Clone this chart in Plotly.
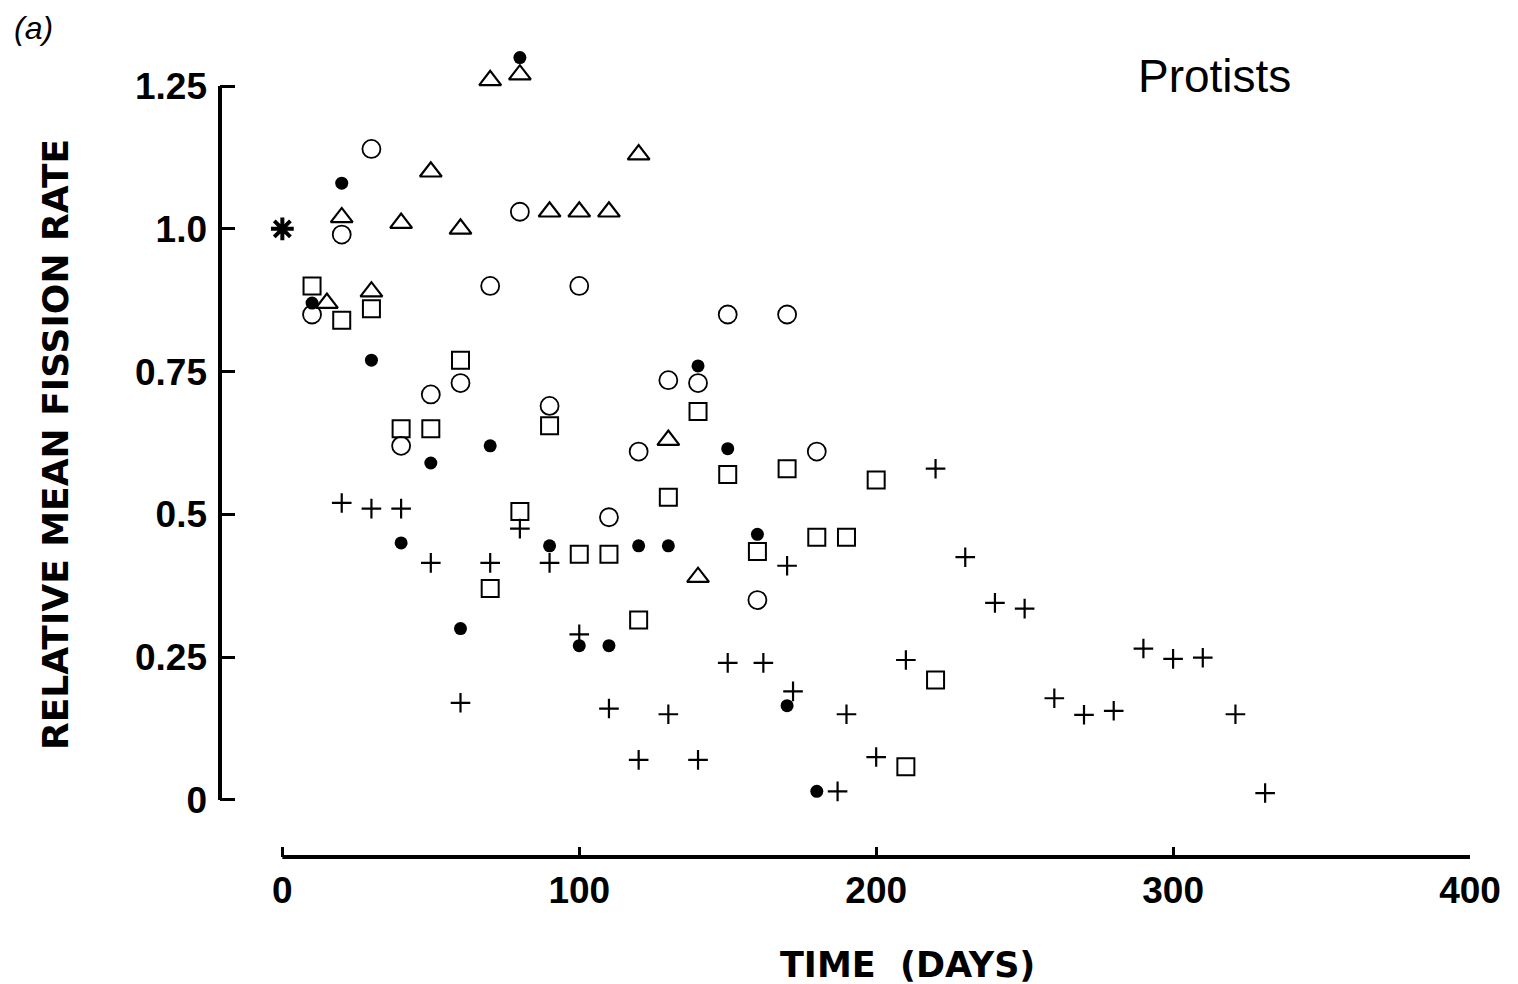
import plotly.graph_objects as go

# ---- data ----
start_day = [0]
start_val = [1.0]

filled_days = [10, 20, 30, 40, 50, 60, 70, 80, 90, 100, 110, 120, 130, 140, 150, 160, 170, 180]
filled_vals = [0.87, 1.08, 0.77, 0.45, 0.59, 0.30, 0.62, 1.30, 0.445, 0.27, 0.27, 0.445, 0.445, 0.76, 0.615, 0.465, 0.165, 0.015]

open_days = [10, 20, 30, 40, 50, 60, 70, 80, 90, 100, 110, 120, 130, 140, 150, 160, 170, 180]
open_vals = [0.85, 0.99, 1.14, 0.62, 0.71, 0.73, 0.90, 1.03, 0.69, 0.90, 0.495, 0.61, 0.735, 0.73, 0.85, 0.35, 0.85, 0.61]

tri_days = [15, 20, 30, 40, 50, 60, 70, 80, 90, 100, 110, 120, 130, 140]
tri_vals = [0.87, 1.02, 0.89, 1.01, 1.10, 1.00, 1.26, 1.27, 1.03, 1.03, 1.03, 1.13, 0.63, 0.39]

sq_days = [10, 20, 30, 40, 50, 60, 70, 80, 90, 100, 110, 120, 130, 140, 150, 160, 170, 180, 190, 200, 210, 220]
sq_vals = [0.90, 0.84, 0.86, 0.65, 0.65, 0.77, 0.37, 0.505, 0.655, 0.43, 0.43, 0.315, 0.53, 0.68, 0.57, 0.435, 0.58, 0.46, 0.46, 0.56, 0.058, 0.21]

plus_days = [20, 30, 40, 50, 60, 70, 80, 90, 100, 110, 120, 130, 140, 150, 162, 170, 172, 187, 190, 200,
             210, 220, 230, 240, 250, 260, 270, 280, 290, 300, 310, 321, 331]
plus_vals = [0.52, 0.51, 0.51, 0.415, 0.17, 0.415, 0.475, 0.415, 0.29, 0.16, 0.07, 0.15, 0.07, 0.24, 0.24, 0.41, 0.19, 0.015, 0.15, 0.075,
             0.245, 0.58, 0.425, 0.345, 0.335, 0.178, 0.149, 0.156, 0.265, 0.247, 0.249, 0.15, 0.012]

y_ticks = [0, 0.25, 0.5, 0.75, 1.0, 1.25]
y_tick_text = ["0", "0.25", "0.5", "0.75", "1.0", "1.25"]
x_ticks = [0, 100, 200, 300, 400]
x_tick_text = ["0", "100", "200", "300", "400"]

BLACK = "#000000"

fig = go.Figure()

fig.add_trace(go.Scatter(x=start_day, y=start_val, mode="markers",
                         marker=dict(symbol="asterisk-open", size=19, color=BLACK,
                                     line=dict(color=BLACK, width=4)),
                         showlegend=False))
fig.add_trace(go.Scatter(x=open_days, y=open_vals, mode="markers",
                         marker=dict(symbol="circle-open", size=18, color=BLACK, line=dict(color=BLACK, width=1.8)),
                         showlegend=False))
fig.add_trace(go.Scatter(x=sq_days, y=sq_vals, mode="markers",
                         marker=dict(symbol="square-open", size=17, color=BLACK, line=dict(color=BLACK, width=2)),
                         showlegend=False))
fig.add_trace(go.Scatter(x=tri_days, y=tri_vals, mode="markers",
                         marker=dict(symbol="triangle-up-open", size=19, color=BLACK, line=dict(color=BLACK, width=2.2)),
                         showlegend=False))
fig.add_trace(go.Scatter(x=filled_days, y=filled_vals, mode="markers",
                         marker=dict(symbol="circle", size=13, color=BLACK, line=dict(width=0)),
                         showlegend=False))
fig.add_trace(go.Scatter(x=plus_days, y=plus_vals, mode="markers",
                         marker=dict(symbol="cross-thin-open", size=14, color=BLACK, line=dict(color=BLACK, width=2.2)),
                         showlegend=False))

tick_font = dict(family="Liberation Sans, Arial, sans-serif", size=37, color=BLACK, weight="bold")

fig.update_layout(
    width=1518, height=984,
    margin=dict(l=220, r=48, t=29, b=127, pad=0),
    paper_bgcolor="white", plot_bgcolor="white",
    xaxis=dict(range=[-21, 400], tickvals=x_ticks, ticktext=x_tick_text,
               ticks="inside", ticklen=10, tickwidth=2.5, tickcolor=BLACK,
               showline=False, showgrid=False, zeroline=False, tickfont=tick_font,
               ticklabelstandoff=8),
    yaxis=dict(range=[-0.1, 1.35], tickvals=y_ticks, ticktext=y_tick_text,
               ticks="inside", ticklen=15, tickwidth=2.5, tickcolor=BLACK,
               showline=False, showgrid=False, zeroline=False, tickfont=tick_font,
               ticklabelstandoff=12),
    shapes=[
        dict(type="line", xref="paper", yref="y", x0=0, x1=0, y0=0, y1=1.25,
             line=dict(color=BLACK, width=4)),
        dict(type="line", xref="x", yref="paper", x0=0, x1=400, y0=0, y1=0,
             line=dict(color=BLACK, width=4)),
    ],
    annotations=[
        dict(text="RELATIVE MEAN FISSION RATE", xref="paper", yref="paper",
             x=-0.1312, y=0.4976, xanchor="center", yanchor="middle", textangle=-90,
             showarrow=False, font=dict(family="DejaVu Sans", size=36, color=BLACK, weight="bold")),
        dict(text="TIME\u00a0\u00a0(DAYS)", xref="paper", yref="paper",
             x=0.5496, y=-0.1304, xanchor="center", yanchor="middle",
             showarrow=False, font=dict(family="DejaVu Sans", size=35, color=BLACK, weight="bold")),
        dict(text="<i>(a)</i>", xref="paper", yref="paper",
             x=-0.1664, y=1.0012, xanchor="left", yanchor="middle",
             showarrow=False, font=dict(family="Liberation Sans, Arial", size=32, color=BLACK)),
        dict(text="Protists", xref="paper", yref="paper",
             x=0.7952, y=0.9432, xanchor="center", yanchor="middle",
             showarrow=False, font=dict(family="Liberation Sans, Arial", size=46, color=BLACK)),
    ],
)

fig.write_html("out.html")
